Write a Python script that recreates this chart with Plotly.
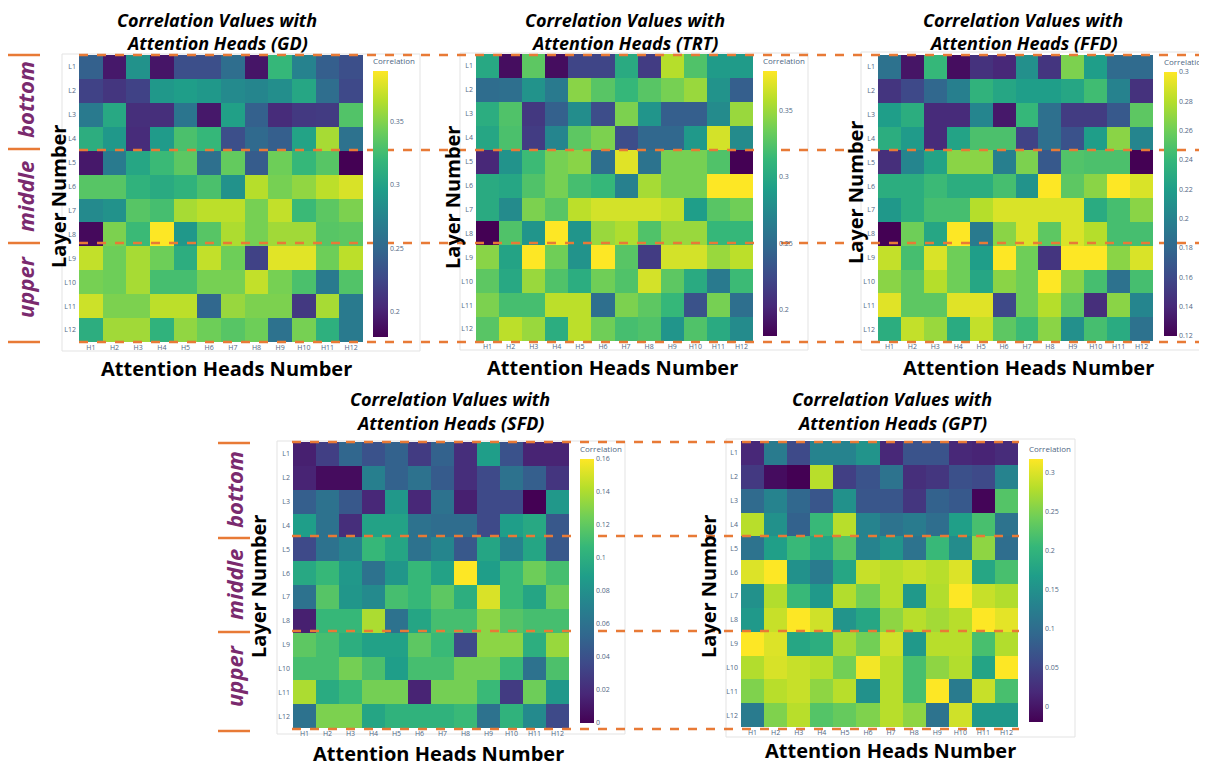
import plotly.graph_objects as go

heads = ["H1", "H2", "H3", "H4", "H5", "H6", "H7", "H8", "H9", "H10", "H11", "H12"]
layers = ["L1", "L2", "L3", "L4", "L5", "L6", "L7", "L8", "L9", "L10", "L11", "L12"]

gd_values = [
    [0.245, 0.194, 0.287, 0.192, 0.231, 0.231, 0.255, 0.192, 0.320, 0.273, 0.243, 0.231],
    [0.222, 0.213, 0.222, 0.292, 0.297, 0.292, 0.280, 0.276, 0.283, 0.304, 0.255, 0.227],
    [0.266, 0.306, 0.208, 0.208, 0.262, 0.194, 0.299, 0.245, 0.206, 0.215, 0.217, 0.332],
    [0.311, 0.292, 0.206, 0.294, 0.329, 0.320, 0.231, 0.252, 0.243, 0.301, 0.362, 0.259],
    [0.194, 0.266, 0.304, 0.322, 0.336, 0.257, 0.339, 0.241, 0.343, 0.320, 0.334, 0.180],
    [0.334, 0.334, 0.315, 0.308, 0.315, 0.329, 0.287, 0.367, 0.346, 0.355, 0.369, 0.378],
    [0.280, 0.287, 0.334, 0.327, 0.362, 0.369, 0.369, 0.346, 0.371, 0.322, 0.336, 0.348],
    [0.185, 0.348, 0.322, 0.390, 0.292, 0.334, 0.364, 0.346, 0.360, 0.360, 0.334, 0.336],
    [0.371, 0.343, 0.362, 0.343, 0.311, 0.371, 0.343, 0.222, 0.381, 0.381, 0.343, 0.369],
    [0.346, 0.343, 0.362, 0.327, 0.327, 0.346, 0.346, 0.371, 0.346, 0.329, 0.266, 0.332],
    [0.374, 0.348, 0.348, 0.369, 0.369, 0.250, 0.357, 0.348, 0.348, 0.215, 0.362, 0.266],
    [0.311, 0.360, 0.360, 0.315, 0.355, 0.343, 0.334, 0.343, 0.259, 0.346, 0.313, 0.266],
]

trt_values = [
    [0.300, 0.187, 0.329, 0.187, 0.222, 0.222, 0.302, 0.216, 0.358, 0.324, 0.289, 0.289],
    [0.251, 0.253, 0.282, 0.262, 0.344, 0.327, 0.313, 0.327, 0.338, 0.349, 0.282, 0.240],
    [0.304, 0.324, 0.213, 0.242, 0.278, 0.227, 0.340, 0.284, 0.240, 0.240, 0.276, 0.349],
    [0.298, 0.322, 0.216, 0.271, 0.329, 0.340, 0.227, 0.247, 0.247, 0.287, 0.367, 0.276],
    [0.202, 0.282, 0.316, 0.338, 0.344, 0.253, 0.371, 0.256, 0.338, 0.338, 0.324, 0.180],
    [0.302, 0.298, 0.324, 0.338, 0.320, 0.313, 0.267, 0.353, 0.338, 0.338, 0.380, 0.380],
    [0.302, 0.276, 0.340, 0.327, 0.360, 0.367, 0.367, 0.367, 0.362, 0.291, 0.327, 0.336],
    [0.180, 0.324, 0.284, 0.380, 0.284, 0.349, 0.356, 0.324, 0.349, 0.349, 0.313, 0.313],
    [0.344, 0.296, 0.380, 0.336, 0.282, 0.380, 0.327, 0.216, 0.367, 0.367, 0.349, 0.360],
    [0.329, 0.300, 0.349, 0.324, 0.304, 0.336, 0.324, 0.367, 0.329, 0.302, 0.262, 0.316],
    [0.340, 0.320, 0.320, 0.360, 0.360, 0.253, 0.340, 0.329, 0.313, 0.231, 0.338, 0.253],
    [0.327, 0.360, 0.349, 0.304, 0.360, 0.336, 0.320, 0.324, 0.284, 0.324, 0.302, 0.276],
]

ffd_values = [
    [0.188, 0.130, 0.240, 0.126, 0.146, 0.140, 0.210, 0.148, 0.264, 0.220, 0.182, 0.182],
    [0.148, 0.160, 0.180, 0.198, 0.236, 0.226, 0.220, 0.220, 0.226, 0.244, 0.200, 0.146],
    [0.220, 0.232, 0.142, 0.142, 0.202, 0.132, 0.240, 0.186, 0.152, 0.152, 0.170, 0.254],
    [0.232, 0.218, 0.142, 0.224, 0.248, 0.248, 0.156, 0.186, 0.166, 0.220, 0.268, 0.202],
    [0.144, 0.202, 0.224, 0.268, 0.268, 0.198, 0.264, 0.170, 0.250, 0.248, 0.248, 0.120],
    [0.232, 0.232, 0.242, 0.232, 0.232, 0.246, 0.212, 0.300, 0.254, 0.268, 0.300, 0.290],
    [0.216, 0.232, 0.246, 0.246, 0.280, 0.290, 0.290, 0.290, 0.290, 0.230, 0.246, 0.268],
    [0.120, 0.260, 0.226, 0.300, 0.194, 0.268, 0.290, 0.254, 0.290, 0.280, 0.246, 0.246],
    [0.284, 0.246, 0.290, 0.260, 0.220, 0.300, 0.260, 0.148, 0.300, 0.300, 0.268, 0.290],
    [0.268, 0.254, 0.280, 0.260, 0.226, 0.268, 0.260, 0.300, 0.268, 0.246, 0.188, 0.246],
    [0.292, 0.254, 0.254, 0.292, 0.292, 0.160, 0.260, 0.280, 0.254, 0.144, 0.268, 0.202],
    [0.232, 0.284, 0.272, 0.230, 0.284, 0.254, 0.242, 0.268, 0.210, 0.246, 0.230, 0.188],
]

sfd_values = [
    [0.014, 0.030, 0.053, 0.041, 0.050, 0.028, 0.050, 0.021, 0.089, 0.041, 0.016, 0.016],
    [0.016, 0.005, 0.005, 0.069, 0.050, 0.060, 0.046, 0.021, 0.036, 0.060, 0.048, 0.025],
    [0.048, 0.060, 0.044, 0.018, 0.085, 0.018, 0.060, 0.014, 0.036, 0.036, 0.000, 0.085],
    [0.089, 0.060, 0.021, 0.092, 0.092, 0.060, 0.057, 0.057, 0.036, 0.089, 0.096, 0.044],
    [0.036, 0.060, 0.071, 0.107, 0.094, 0.060, 0.073, 0.044, 0.094, 0.071, 0.094, 0.044],
    [0.096, 0.107, 0.085, 0.060, 0.084, 0.107, 0.092, 0.160, 0.089, 0.108, 0.124, 0.112],
    [0.060, 0.117, 0.084, 0.076, 0.112, 0.107, 0.119, 0.100, 0.151, 0.108, 0.094, 0.124],
    [0.014, 0.107, 0.107, 0.140, 0.060, 0.094, 0.112, 0.112, 0.132, 0.117, 0.112, 0.112],
    [0.119, 0.112, 0.100, 0.091, 0.091, 0.119, 0.108, 0.036, 0.132, 0.132, 0.100, 0.135],
    [0.112, 0.112, 0.126, 0.114, 0.089, 0.112, 0.112, 0.126, 0.126, 0.108, 0.060, 0.114],
    [0.140, 0.098, 0.108, 0.126, 0.126, 0.016, 0.126, 0.126, 0.108, 0.028, 0.124, 0.085],
    [0.060, 0.128, 0.128, 0.094, 0.103, 0.103, 0.103, 0.108, 0.060, 0.103, 0.076, 0.036],
]

gpt_values = [
    [0.018, 0.120, 0.056, 0.131, 0.131, 0.154, 0.018, 0.067, 0.067, 0.018, 0.014, 0.022],
    [0.037, -0.009, -0.020, 0.282, 0.044, 0.067, 0.108, 0.025, 0.033, 0.063, 0.056, 0.131],
    [0.097, 0.131, 0.093, 0.071, 0.150, 0.071, 0.071, 0.033, 0.086, 0.075, -0.016, 0.226],
    [0.282, 0.150, 0.086, 0.207, 0.282, 0.131, 0.108, 0.120, 0.101, 0.169, 0.218, 0.108],
    [0.108, 0.169, 0.207, 0.180, 0.226, 0.131, 0.154, 0.108, 0.207, 0.143, 0.260, 0.101],
    [0.301, 0.320, 0.150, 0.120, 0.180, 0.290, 0.282, 0.290, 0.282, 0.301, 0.180, 0.218],
    [0.150, 0.279, 0.207, 0.161, 0.279, 0.245, 0.282, 0.161, 0.279, 0.320, 0.290, 0.279],
    [0.161, 0.290, 0.320, 0.294, 0.154, 0.180, 0.260, 0.282, 0.271, 0.282, 0.320, 0.305],
    [0.320, 0.301, 0.180, 0.192, 0.271, 0.245, 0.294, 0.161, 0.282, 0.282, 0.218, 0.279],
    [0.279, 0.298, 0.290, 0.282, 0.245, 0.313, 0.282, 0.218, 0.260, 0.279, 0.177, 0.320],
    [0.252, 0.282, 0.290, 0.260, 0.282, 0.150, 0.282, 0.218, 0.320, 0.120, 0.290, 0.218],
    [0.120, 0.252, 0.282, 0.226, 0.237, 0.252, 0.282, 0.260, 0.108, 0.294, 0.161, 0.161],
]

panel_names = ["GD", "TRT", "FFD", "SFD", "GPT"]
color_ranges = [(0.18, 0.39), (0.18, 0.38), (0.12, 0.30), (0.0, 0.16), (-0.02, 0.318)]
color_dticks = [0.05, 0.05, 0.02, 0.02, 0.05]
group_labels = ["bottom", "middle", "upper"]

W, H = 1207, 765
OFF = 8  # page body margin of the html page


def px(x):
    return (x - OFF) / W


def py(y):
    return 1 - (y - OFF) / H


# layout geometry in screen pixels
panels = [
    dict(cx=(79, 363), cy=(55, 342), cbx=373, cbt=15, cby=(68, 337), tx=217, ty=(20, 43),
         ylx=58, yly=197, xlx=226, xly=368, frame=(62, 54, 420, 351)),
    dict(cx=(476, 753), cy=(54, 341), cbx=763, cbt=14, cby=(68, 336), tx=625, ty=(20, 43),
         ylx=452, yly=198, xlx=612, xly=367, frame=(460, 53, 808, 350)),
    dict(cx=(878, 1153), cy=(55, 341), cbx=1164, cbt=13, cby=(69, 336), tx=1023, ty=(20, 43),
         ylx=855, yly=193, xlx=1028, xly=367, frame=(861, 52, 1206, 350)),
    dict(cx=(293, 569), cy=(442, 728), cbx=580, cbt=14, cby=(456, 723), tx=450, ty=(399, 423),
         ylx=258, yly=587, xlx=438, xly=753, frame=(277, 441, 625, 734)),
    dict(cx=(741, 1018), cy=(441, 727), cbx=1029, cbt=14, cby=(456, 722), tx=892, ty=(399, 423),
         ylx=708, yly=587, xlx=890, xly=750, frame=(726, 439, 1075, 737)),
]

datasets = [gd_values, trt_values, ffd_values, sfd_values, gpt_values]

fig = go.Figure()
layout = dict(width=W, height=H, margin=dict(l=0, r=0, t=0, b=0),
              paper_bgcolor="white", plot_bgcolor="white", showlegend=False)
annotations = []
shapes = []

title_font = dict(family="Open Sans", size=18, color="black", weight="bold", style="italic")
axis_font = dict(family="Open Sans", size=20, color="black", weight="bold")
tick_font = dict(family="Open Sans", size=7, color="#506784")
orange = "#E87A36"
purple = "#7A2A6E"
TITLE_SPACE = 13  # px taken above the bar by the colorbar title

for i, (name, vals, rng, dt, g) in enumerate(zip(panel_names, datasets, color_ranges, color_dticks, panels)):
    n = "" if i == 0 else str(i + 1)
    ca = "coloraxis" + n
    fig.add_trace(go.Heatmap(z=vals, x=heads, y=layers, coloraxis=ca,
                             xaxis="x" + n, yaxis="y" + n,
                             hovertemplate="%{y} %{x}: %{z}<extra>" + name + "</extra>"))
    layout["xaxis" + n] = dict(domain=[px(g["cx"][0]), px(g["cx"][1])], anchor="y" + n,
                               showgrid=False, zeroline=False, ticks="", tickfont=tick_font,
                               ticklabelstandoff=0, fixedrange=True)
    layout["yaxis" + n] = dict(domain=[py(g["cy"][1]), py(g["cy"][0])], anchor="x" + n,
                               autorange="reversed", showgrid=False, zeroline=False, ticks="",
                               tickfont=tick_font, ticklabelstandoff=2, fixedrange=True)
    cb_top, cb_bot = g["cby"]
    cb_top = cb_top - TITLE_SPACE
    layout[ca] = dict(
        colorscale="Viridis", cmin=rng[0], cmax=rng[1],
        colorbar=dict(x=px(g["cbx"]), xanchor="left", y=py(cb_bot), yanchor="bottom",
                      len=(cb_bot - cb_top) / H, lenmode="fraction", thickness=g["cbt"],
                      thicknessmode="pixels", xpad=0, ypad=0, outlinewidth=0,
                      dtick=dt, tick0=0, ticks="",
                      tickfont=dict(family="Open Sans", size=7, color="#506784"),
                      title=dict(text="Correlation", side="top",
                                 font=dict(family="Open Sans", size=8, color="#506784"))),
    )
    # panel frame
    fx0, fy0, fx1, fy1 = g["frame"]
    shapes.append(dict(type="rect", xref="paper", yref="paper", x0=px(fx0), x1=px(fx1),
                       y0=py(fy1), y1=py(fy0), line=dict(color="#e3e3e3", width=1), layer="below"))
    # titles
    annotations.append(dict(text="Correlation Values with", x=px(g["tx"]), y=py(g["ty"][0]),
                            xref="paper", yref="paper", showarrow=False, font=title_font,
                            xanchor="center", yanchor="middle"))
    annotations.append(dict(text="Attention Heads (" + name + ")", x=px(g["tx"]), y=py(g["ty"][1]),
                            xref="paper", yref="paper", showarrow=False, font=title_font,
                            xanchor="center", yanchor="middle"))
    annotations.append(dict(text="Layer Number", x=px(g["ylx"]), y=py(g["yly"]), textangle=-90,
                            xref="paper", yref="paper", showarrow=False, font=axis_font,
                            xanchor="center", yanchor="middle"))
    annotations.append(dict(text="Attention Heads Number", x=px(g["xlx"]), y=py(g["xly"]),
                            xref="paper", yref="paper", showarrow=False, font=axis_font,
                            xanchor="center", yanchor="middle"))

# dashed group separators
row_lines = [
    dict(x0=79, x1=1215, ys=[55, 150, 243, 342]),
    dict(x0=292, x1=1019, ys=[442, 536, 631, 729]),
]
for rl in row_lines:
    for yv in rl["ys"]:
        shapes.append(dict(type="line", xref="paper", yref="paper", x0=px(rl["x0"]), x1=px(rl["x1"]),
                           y0=py(yv), y1=py(yv), line=dict(color=orange, width=2.5, dash="dash"),
                           layer="above"))

# left group labels with short solid lines
side_groups = [
    dict(lx=(8, 40), ys=[55, 149, 243, 342], tx=25, tys=[100, 197, 287]),
    dict(lx=(218, 250), ys=[443, 538, 632, 731], tx=234, tys=[490, 585, 676]),
]
for sg in side_groups:
    for yv in sg["ys"]:
        shapes.append(dict(type="line", xref="paper", yref="paper", x0=px(sg["lx"][0]), x1=px(sg["lx"][1]),
                           y0=py(yv), y1=py(yv), line=dict(color=orange, width=2.5)))
    for lab, yv in zip(group_labels, sg["tys"]):
        annotations.append(dict(text=lab, x=px(sg["tx"]), y=py(yv), textangle=-90,
                                xref="paper", yref="paper", showarrow=False,
                                font=dict(family="Open Sans", size=22, color=purple,
                                          weight="bold", style="italic"),
                                xanchor="center", yanchor="middle"))

layout["annotations"] = annotations
layout["shapes"] = shapes
fig.update_layout(**layout)
fig.write_html("out.html")
